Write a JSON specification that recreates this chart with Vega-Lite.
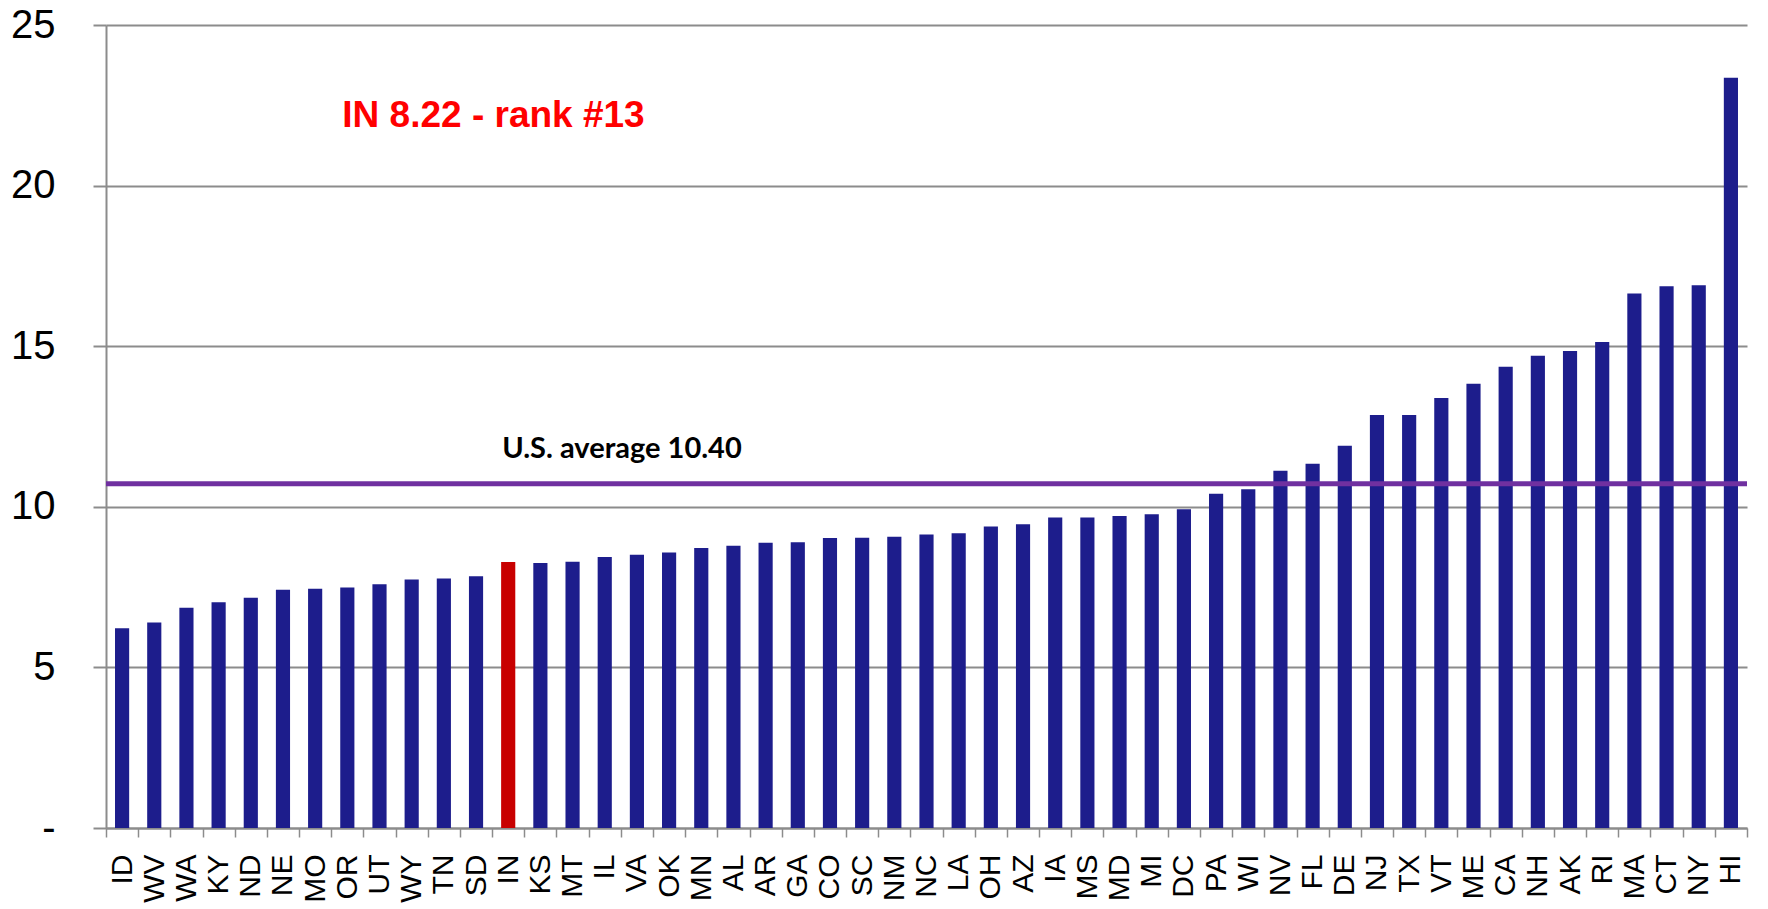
{
  "$schema": "https://vega.github.io/schema/vega-lite/v6.json",
  "autosize": "none",
  "width": 1641,
  "height": 803,
  "padding": {"left": 106, "top": 25, "right": 21, "bottom": 81},
  "background": "white",
  "config": {"view": {"stroke": null}, "font": "Liberation Sans"},
  "data": {"values": [
    {"state": "ID", "value": 6.22, "hl": "no"},
    {"state": "WV", "value": 6.40, "hl": "no"},
    {"state": "WA", "value": 6.86, "hl": "no"},
    {"state": "KY", "value": 7.03, "hl": "no"},
    {"state": "ND", "value": 7.17, "hl": "no"},
    {"state": "NE", "value": 7.42, "hl": "no"},
    {"state": "MO", "value": 7.45, "hl": "no"},
    {"state": "OR", "value": 7.49, "hl": "no"},
    {"state": "UT", "value": 7.59, "hl": "no"},
    {"state": "WY", "value": 7.74, "hl": "no"},
    {"state": "TN", "value": 7.77, "hl": "no"},
    {"state": "SD", "value": 7.84, "hl": "no"},
    {"state": "IN", "value": 8.28, "hl": "yes"},
    {"state": "KS", "value": 8.25, "hl": "no"},
    {"state": "MT", "value": 8.29, "hl": "no"},
    {"state": "IL", "value": 8.44, "hl": "no"},
    {"state": "VA", "value": 8.51, "hl": "no"},
    {"state": "OK", "value": 8.58, "hl": "no"},
    {"state": "MN", "value": 8.72, "hl": "no"},
    {"state": "AL", "value": 8.79, "hl": "no"},
    {"state": "AR", "value": 8.88, "hl": "no"},
    {"state": "GA", "value": 8.90, "hl": "no"},
    {"state": "CO", "value": 9.03, "hl": "no"},
    {"state": "SC", "value": 9.04, "hl": "no"},
    {"state": "NM", "value": 9.07, "hl": "no"},
    {"state": "NC", "value": 9.14, "hl": "no"},
    {"state": "LA", "value": 9.18, "hl": "no"},
    {"state": "OH", "value": 9.39, "hl": "no"},
    {"state": "AZ", "value": 9.46, "hl": "no"},
    {"state": "IA", "value": 9.67, "hl": "no"},
    {"state": "MS", "value": 9.67, "hl": "no"},
    {"state": "MD", "value": 9.71, "hl": "no"},
    {"state": "MI", "value": 9.77, "hl": "no"},
    {"state": "DC", "value": 9.92, "hl": "no"},
    {"state": "PA", "value": 10.41, "hl": "no"},
    {"state": "WI", "value": 10.55, "hl": "no"},
    {"state": "NV", "value": 11.12, "hl": "no"},
    {"state": "FL", "value": 11.34, "hl": "no"},
    {"state": "DE", "value": 11.90, "hl": "no"},
    {"state": "NJ", "value": 12.86, "hl": "no"},
    {"state": "TX", "value": 12.86, "hl": "no"},
    {"state": "VT", "value": 13.39, "hl": "no"},
    {"state": "ME", "value": 13.83, "hl": "no"},
    {"state": "CA", "value": 14.36, "hl": "no"},
    {"state": "NH", "value": 14.70, "hl": "no"},
    {"state": "AK", "value": 14.85, "hl": "no"},
    {"state": "RI", "value": 15.13, "hl": "no"},
    {"state": "MA", "value": 16.64, "hl": "no"},
    {"state": "CT", "value": 16.87, "hl": "no"},
    {"state": "NY", "value": 16.90, "hl": "no"},
    {"state": "HI", "value": 23.36, "hl": "no"}
  ]},
  "encoding": {
    "x": {
      "field": "state", "type": "nominal",
      "scale": {
        "domain": ["ID","WV","WA","KY","ND","NE","MO","OR","UT","WY","TN","SD","IN","KS","MT","IL","VA","OK","MN","AL","AR","GA","CO","SC","NM","NC","LA","OH","AZ","IA","MS","MD","MI","DC","PA","WI","NV","FL","DE","NJ","TX","VT","ME","CA","NH","AK","RI","MA","CT","NY","HI"],
        "paddingInner": 0, "paddingOuter": 0
      },
      "axis": {
        "title": null, "labelAngle": -90, "labelFontSize": 30, "labelColor": "black",
        "labelFont": "Liberation Sans", "labelPadding": 17,
        "tickBand": "extent", "tickSize": 9, "tickColor": "#8c8c8c", "tickWidth": 1.5,
        "domainColor": "#8c8c8c", "domainWidth": 2, "grid": false
      }
    },
    "y": {
      "field": "value", "type": "quantitative",
      "scale": {"domain": [0, 25], "nice": false, "zero": true},
      "axis": {
        "title": null, "values": [0, 5, 10, 15, 20, 25],
        "labelExpr": "datum.value == 0 ? '-' : datum.label",
        "labelFontSize": 40, "labelColor": "black", "labelFont": "Liberation Sans",
        "labelPadding": 38, "tickSize": 13, "tickColor": "#8c8c8c", "tickWidth": 2,
        "domainColor": "#8c8c8c", "domainWidth": 2,
        "grid": true, "gridColor": "#8c8c8c", "gridWidth": 2
      }
    }
  },
  "layer": [
    {
      "mark": {"type": "bar", "width": {"band": 0.44}},
      "encoding": {
        "color": {
          "field": "hl", "type": "nominal", "legend": null,
          "scale": {"domain": ["no", "yes"], "range": ["#1D1D8C", "#C80000"]}
        }
      }
    },
    {
      "data": {"values": [{"avg": 10.72}]},
      "mark": {"type": "rule", "color": "#7030A0", "strokeWidth": 5},
      "encoding": {"x": null, "y": {"field": "avg", "type": "quantitative"}}
    },
    {
      "data": {"values": [{"state": "OR", "value": 22.17, "label": "IN 8.22 - rank #13"}]},
      "mark": {"type": "text", "align": "left", "baseline": "middle", "dx": -5, "font": "Liberation Sans", "fontWeight": "bold", "fontSize": 37, "color": "#FF0000"},
      "encoding": {"text": {"field": "label"}}
    },
    {
      "data": {"values": [{"state": "IN", "value": 11.81, "label": "U.S. average 10.40"}]},
      "mark": {"type": "text", "align": "left", "baseline": "middle", "dx": -6, "font": "Lato", "fontWeight": "bold", "fontSize": 29, "color": "black"},
      "encoding": {"text": {"field": "label"}}
    }
  ]
}
